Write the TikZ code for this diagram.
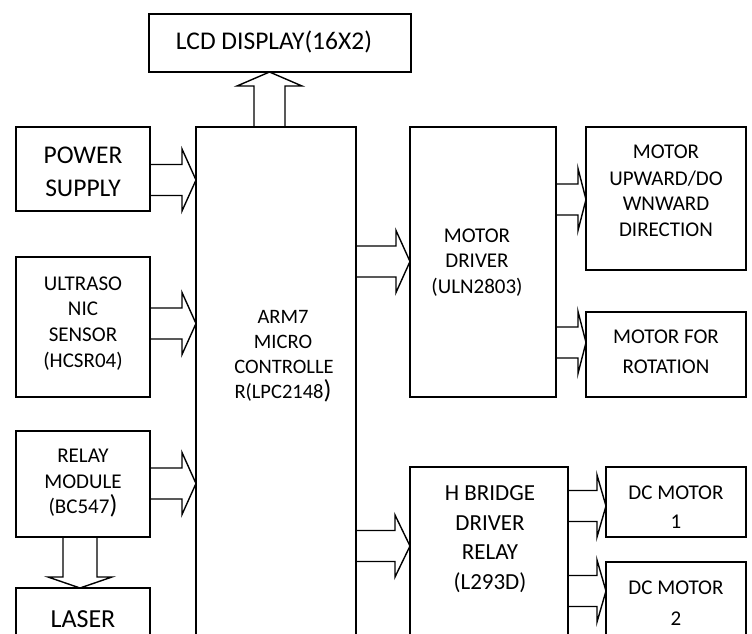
\documentclass[tikz,border=0pt]{standalone}
\usepackage{fontspec}
\setmainfont{Carlito}
\usetikzlibrary{calc}
\tikzset{
  blk/.style={draw,line width=1.4pt,inner sep=0pt,outer sep=0pt,anchor=north west},
  fat/.style={draw,line width=1.4pt,line join=miter},
  lbl/.style={inner sep=0pt,anchor=base}
}
\newcommand\blk[5]{\node[blk,minimum width={(#4)-(#2)},minimum height={(#5)-(#3)}] (#1) at (#2,#3) {};}
\newcommand\txt[5]{\node[lbl,font=\fontsize{#4}{#4}\selectfont] (#1) at (#2,#3) {#5};}
\newcommand\bigpar[1]{{\fontsize{#1}{#1}\selectfont)}}
\newcommand\fatR[4]{%
  \coordinate (s) at (#1.east |- 0,#3);
  \coordinate (t) at (#2.west |- 0,#3);
  \draw[fat] ($(s)+(0,-15.5)$) -- ($(t)+(-#4,-15.5)$) -- ($(t)+(-#4,-31)$) -- (t)
    -- ($(t)+(-#4,31)$) -- ($(t)+(-#4,15.5)$) -- ($(s)+(0,15.5)$);}
\begin{document}
\begin{tikzpicture}[x=1pt,y=-1pt]
\useasboundingbox (0,0) rectangle (752,634);
\clip (0,0) rectangle (752,634);
% boxes
\blk{lcd}{149}{14}{411}{72}
\blk{ps}{16}{127}{150}{211}
\blk{us}{16}{257}{150}{397}
\blk{relay}{16}{431}{150}{537}
\blk{laser}{16}{588}{150}{660}
\blk{arm}{196}{127}{356}{660}
\blk{md}{410}{127}{556}{397}
\blk{mud}{586}{127}{746}{270}
\blk{rot}{586}{312}{746}{397}
\blk{hb}{410}{467}{568}{660}
\blk{dcone}{606}{467}{746}{537}
\blk{dctwo}{606}{562}{746}{660}
% texts
\txt{lcdt}{274}{50}{25.5}{LCD DISPLAY(16X2)}
\txt{psa}{83}{163}{25.5}{POWER}
\txt{psb}{83}{196}{25.5}{SUPPLY}
\txt{usa}{83}{290}{21}{ULTRASO}
\txt{usb}{83}{315}{21}{NIC}
\txt{usc}{83}{341}{21}{SENSOR}
\txt{usd}{83}{367}{21}{(HCSR04)}
\txt{rla}{83}{462}{21}{RELAY}
\txt{rlb}{83}{488}{21}{MODULE}
\txt{rlc}{83}{513}{21}{(BC547\bigpar{26}}
\txt{lst}{83}{627}{26}{LASER}
\txt{arma}{283}{323}{20.5}{ARM7}
\txt{armb}{283}{348}{20.5}{MICRO}
\txt{armc}{284}{373}{20.5}{CONTROLLE}
\txt{armd}{283}{398}{20.5}{R(LPC2148\bigpar{26}}
\txt{mda}{477}{242}{21}{MOTOR}
\txt{mdb}{477}{267}{21}{DRIVER}
\txt{mdc}{477}{293}{21}{(ULN2803)}
\txt{muda}{666}{158}{21}{MOTOR}
\txt{mudb}{666}{185}{21}{UPWARD/DO}
\txt{mudc}{666}{210}{21}{WNWARD}
\txt{mudd}{666}{236}{21}{DIRECTION}
\txt{rota}{666}{343}{21}{MOTOR FOR}
\txt{rotb}{666}{373}{21}{ROTATION}
\txt{hba}{490}{500}{23}{H BRIDGE}
\txt{hbb}{490}{530}{23}{DRIVER}
\txt{hbc}{490}{559}{23}{RELAY}
\txt{hbd}{490}{589}{23}{(L293D)}
\txt{dcaa}{676}{499}{21}{DC MOTOR}
\txt{dcab}{676}{528}{21}{1}
\txt{dcba}{676}{594}{21}{DC MOTOR}
\txt{dcbb}{676}{625}{21}{2}
% fat arrows
\fatR{ps}{arm}{180}{14}
\fatR{us}{arm}{323.5}{14}
\fatR{relay}{arm}{483.5}{14}
\fatR{arm}{md}{261.5}{14}
\fatR{md}{mud}{199.5}{8}
\fatR{md}{rot}{342.5}{8}
\fatR{arm}{hb}{546}{15}
\fatR{hb}{dcone}{506}{9}
\fatR{hb}{dctwo}{591}{9}
% up arrow to LCD
\coordinate (s) at (269.5,0 |- arm.north);
\coordinate (t) at (269.5,0 |- lcd.south);
\draw[fat] ($(s)+(-15.5,0)$) -- ($(t)+(-15.5,14)$) -- ($(t)+(-32.5,14)$) -- (t)
  -- ($(t)+(32.5,14)$) -- ($(t)+(15.5,14)$) -- ($(s)+(15.5,0)$);
% down arrow to laser
\coordinate (s) at (80,0 |- relay.south);
\coordinate (t) at (80,0 |- laser.north);
\draw[fat] ($(s)+(-17,0)$) -- ($(t)+(-17,-11)$) -- ($(t)+(-32,-11)$) -- (t)
  -- ($(t)+(32,-11)$) -- ($(t)+(17,-11)$) -- ($(s)+(17,0)$);
\end{tikzpicture}
\end{document}
